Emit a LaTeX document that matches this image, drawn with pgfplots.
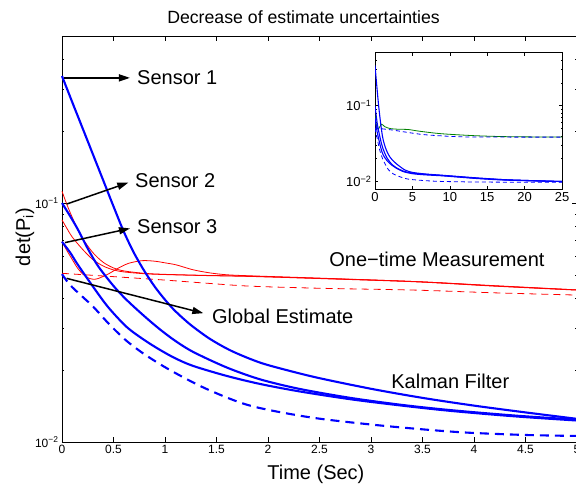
\documentclass[border=0pt]{standalone}
\usepackage{fontspec}
\setmainfont{Liberation Sans}
\usepackage{pgfplots}
\pgfplotsset{compat=1.18}
\usetikzlibrary{arrows.meta}

\definecolor{mblue}{RGB}{0,0,255}
\definecolor{mred}{RGB}{255,0,0}
\definecolor{mgreen}{RGB}{0,128,0}

\pgfplotsset{
  kf/.style={mblue, line width=2.1bp, smooth},
  kfd/.style={mblue, line width=2.1bp, smooth, dash pattern=on 9bp off 6bp},
  om/.style={mred, line width=0.8bp, smooth},
  omd/.style={mred, line width=0.8bp, smooth, dash pattern=on 7bp off 5bp},
}
\newcommand{\lbl}{\fontsize{20bp}{24bp}\selectfont}
\tikzset{sarrow/.style={black, line width=1.5bp, -{Triangle[length=11bp,width=7bp]}}}

\begin{document}
\begin{tikzpicture}
\begin{axis}[scale only axis, anchor=south west, at={(0,0)},
  ymode=log, tick align=inside,
  axis line style={line width=0.9bp},
  every tick/.style={black, line width=0.5bp},
  /pgf/number format/assume math mode=true,
  width=515bp, height=406bp,
  xmin=0, xmax=5, ymin=0.01, ymax=0.5,
  xtick={0,0.5,1,1.5,2,2.5,3,3.5,4,4.5,5},
  ytick={0.01,0.1},
  yticklabels={{10\textsuperscript{−2}},{10\textsuperscript{−1}}},
  minor ytick={0.02,0.03,0.04,0.05,0.06,0.07,0.08,0.09,0.2,0.3,0.4,0.5},
  major tick length=5bp, minor tick length=2.5bp,
  tick label style={font=\fontsize{12bp}{14bp}\selectfont},
  clip=false]

% one-time measurement (red)
\addplot[om] coordinates {(0,0.112)(0.05,0.098)(0.1,0.087)(0.15,0.078)(0.2,0.071)(0.3,0.062)(0.4,0.0565)(0.5,0.0535)(0.6,0.052)(0.8,0.0508)(1.0,0.0503)(1.4,0.0498)(1.825,0.0494)(2.5,0.0484)(3.44,0.0469)(4.2,0.0450)(5,0.0433)};
\addplot[om] coordinates {(0,0.085)(0.05,0.078)(0.1,0.072)(0.2,0.064)(0.3,0.058)(0.4,0.0545)(0.5,0.0525)(0.6,0.0515)(0.8,0.0506)(1.0,0.0502)(1.4,0.0497)(1.825,0.0493)(2.5,0.0483)(3.44,0.0468)(4.2,0.0449)(5,0.0432)};
\addplot[om] coordinates {(0,0.069)(0.05,0.063)(0.1,0.058)(0.15,0.0535)(0.2,0.0505)(0.25,0.0487)(0.3,0.0480)(0.35,0.0483)(0.45,0.0505)(0.55,0.0535)(0.65,0.0560)(0.78,0.0574)(0.9,0.0571)(1.0,0.0562)(1.11,0.0551)(1.27,0.0526)(1.437,0.0510)(1.6,0.0501)(1.825,0.0496)(2.5,0.0485)(3.44,0.0469)(4.2,0.0451)(5,0.0433)};
\addplot[omd] coordinates {(0,0.0508)(0.5,0.0492)(1.0,0.0476)(1.4,0.0462)(1.825,0.0449)(2.5,0.0440)(3.44,0.0432)(4.2,0.0421)(5,0.0412)};

% Kalman filter (blue)
\addplot[kf] coordinates {(0,0.340)(0.1,0.264)(0.2,0.2056)(0.3,0.160)(0.4,0.1245)(0.5,0.0968)(0.6,0.0759)(0.7,0.0617)(0.8,0.0519)(0.9,0.0447)(1.0,0.0394)(1.1,0.0353)(1.25,0.0309)(1.437,0.0270)(1.65,0.0240)(1.922,0.0215)(2.2,0.0199)(2.5,0.0185)(3.0,0.0167)(3.5,0.0153)(4.0,0.0142)(4.5,0.0133)(5,0.0125)};
\addplot[kf] coordinates {(0,0.100)(0.08,0.088)(0.158,0.077)(0.25,0.0645)(0.35,0.0545)(0.5,0.0450)(0.628,0.0393)(0.8,0.0336)(0.951,0.0296)(1.1,0.0265)(1.275,0.0238)(1.6,0.0205)(1.922,0.0183)(2.3,0.0167)(2.8,0.0153)(3.3,0.0143)(3.77,0.0136)(4.4,0.0129)(5,0.0124)};
\addplot[kf] coordinates {(0,0.0689)(0.08,0.062)(0.15,0.0555)(0.304,0.0445)(0.45,0.0366)(0.628,0.0303)(0.8,0.0267)(0.951,0.0243)(1.1,0.0224)(1.275,0.0208)(1.6,0.0189)(1.922,0.0175)(2.3,0.0163)(2.8,0.0151)(3.3,0.0142)(3.77,0.0135)(4.4,0.0128)(5,0.0123)};
\addplot[kfd] coordinates {(0,0.0504)(0.078,0.0454)(0.2,0.0405)(0.304,0.0368)(0.45,0.0314)(0.618,0.0267)(0.8,0.0233)(1.049,0.0200)(1.4,0.0167)(1.825,0.01420)(2.4,0.0127)(2.987,0.01185)(3.5,0.0113)(3.929,0.01095)(4.5,0.0107)(5,0.0106)};

% annotations
\draw[sarrow] (axis cs:0.02,0.334) -- (axis cs:0.66,0.334);
\node[anchor=west, inner sep=0pt, font=\lbl] at (axis cs:0.728,0.334) {Sensor 1};
\draw[sarrow] (axis cs:0.045,0.099) -- (axis cs:0.644,0.1217);
\node[anchor=west, inner sep=0pt, font=\lbl] at (axis cs:0.709,0.1236) {Sensor 2};
\draw[sarrow] (axis cs:0.029,0.0683) -- (axis cs:0.66,0.0783);
\node[anchor=west, inner sep=0pt, font=\lbl] at (axis cs:0.728,0.0794) {Sensor 3};
\draw[sarrow] (axis cs:0.045,0.0484) -- (axis cs:1.372,0.0346);
\node[anchor=west, inner sep=0pt, font=\lbl] at (axis cs:1.456,0.0334) {Global Estimate};
\node[font=\lbl] at (axis cs:3.64,0.0584) {One−time Measurement};
\node[font=\lbl] at (axis cs:3.77,0.0180) {Kalman Filter};

\node[font=\fontsize{17.7bp}{21bp}\selectfont] at ([yshift=19bp]rel axis cs:0.469,1) {Decrease of estimate uncertainties};
\node[font=\lbl] at ([yshift=-32bp]rel axis cs:0.493,0) {Time (Sec)};
\node[font=\lbl, rotate=90] at ([xshift=-37bp]rel axis cs:0,0.505) {det(P\textsubscript{i})};
\end{axis}

\begin{axis}[scale only axis, anchor=south west, at={(313bp,252.7bp)},
  ymode=log, tick align=inside,
  axis line style={line width=0.9bp},
  every tick/.style={black, line width=0.5bp},
  /pgf/number format/assume math mode=true,
  width=187bp, height=136.6bp,
  xmin=0, xmax=25, ymin=0.0079, ymax=0.5,
  xtick={0,5,10,15,20,25},
  ytick={0.01,0.1},
  yticklabels={{10\textsuperscript{−2}},{10\textsuperscript{−1}}},
  minor ytick={0.02,0.03,0.04,0.05,0.06,0.07,0.08,0.09,0.2,0.3,0.4,0.5},
  major tick length=3bp, minor tick length=1.5bp,
  tick label style={font=\fontsize{13bp}{15bp}\selectfont},
  axis background/.style={fill=white}]
\addplot[mgreen, line width=0.8bp, smooth] coordinates {(0,0.075)(0.2,0.055)(0.4,0.049)(0.6,0.052)(0.9,0.057)(1.3,0.053)(2,0.050)(3,0.049)(4.45,0.0485)(6,0.046)(8.9,0.0427)(13.4,0.0402)(18,0.039)(25,0.0386)};
\addplot[mblue, line width=0.8bp, smooth, dash pattern=on 4bp off 3bp] coordinates {(0,0.0507)(2.2,0.048)(4,0.045)(6.7,0.0414)(11.1,0.0390)(15,0.0386)(25,0.0385)};
\addplot[mblue, line width=1.1bp, smooth] coordinates {(0,0.34)(0.5,0.0968)(1,0.0394)(1.5,0.0262)(2,0.0210)(2.5,0.0185)(3,0.0167)(4,0.0142)(5,0.0132)(6,0.0128)(7,0.0125)(9,0.0121)(11.4,0.0116)(14,0.0111)(18,0.0105)(25,0.0100)};
\addplot[mblue, line width=1.1bp, smooth] coordinates {(0,0.100)(0.35,0.0545)(0.95,0.0296)(1.6,0.0205)(2.3,0.0167)(2.8,0.0153)(3.8,0.0137)(5,0.0129)(6,0.0126)(7,0.0124)(9,0.0120)(11.4,0.0115)(14,0.0110)(18,0.0105)(25,0.0100)};
\addplot[mblue, line width=1.1bp, smooth] coordinates {(0,0.069)(0.3,0.0445)(0.95,0.0243)(1.6,0.0189)(2.3,0.0163)(2.8,0.0151)(3.8,0.0135)(5,0.0127)(6,0.0124)(7,0.0122)(9,0.0119)(11.4,0.0114)(14,0.0109)(18,0.0104)(25,0.0100)};
\addplot[mblue, line width=0.8bp, smooth, dash pattern=on 4bp off 3bp] coordinates {(0,0.0504)(0.3,0.0368)(0.6,0.0267)(1,0.0202)(1.4,0.0167)(1.8,0.0143)(2.4,0.0127)(3,0.0119)(4,0.0110)(5,0.0106)(8,0.0101)(12,0.0099)(18,0.0098)(25,0.0098)};
\end{axis}

\pgfresetboundingbox
\path[use as bounding box] (-62bp,-51bp) rectangle (514bp,442bp);
\end{tikzpicture}
\end{document}
